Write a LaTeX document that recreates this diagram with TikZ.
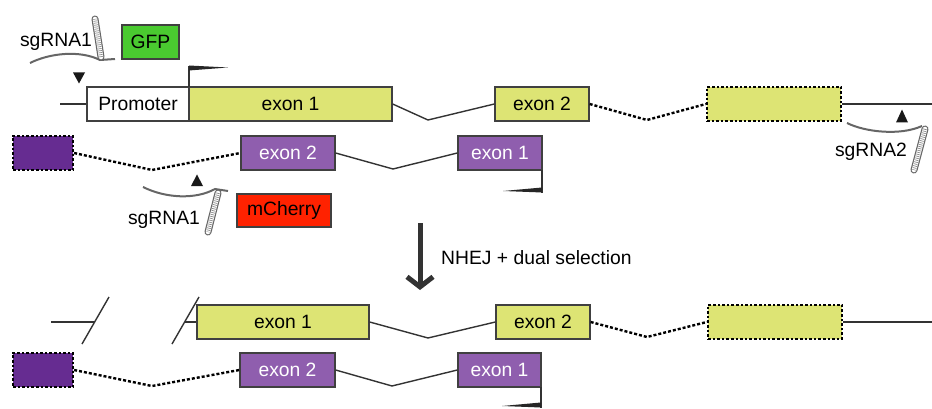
\documentclass[tikz,border=0pt]{standalone}
\usepackage{fontspec}
\setmainfont{Liberation Sans}
\usepackage{tikz}
\usetikzlibrary{arrows.meta}

\definecolor{amarillo}{RGB}{221,228,116}
\definecolor{morado}{RGB}{143,94,174}
\definecolor{moradoosc}{RGB}{102,44,145}
\definecolor{verde}{RGB}{74,202,48}
\definecolor{rojo}{RGB}{255,34,0}

\tikzset{
  caja/.style={draw=black!75, line width=1.3pt, minimum height=34pt, inner sep=0pt,
    font=\fontsize{19.3}{22}\selectfont},
  exonA/.style={caja, fill=amarillo},
  exonB/.style={caja, fill=morado, text=white},
  falsoA/.style={caja, draw=black, fill=amarillo, line width=2.2pt, dash pattern=on 2.6pt off 2pt},
  falsoB/.style={caja, draw=black, fill=moradoosc, line width=2.2pt, dash pattern=on 2.6pt off 2pt},
  rotulo/.style={inner sep=0pt, font=\fontsize{19.3}{22}\selectfont},
  intron/.style={draw=black!80, line width=1.4pt},
  punteado/.style={draw=black, line width=2.4pt, dash pattern=on 3pt off 2pt},
  hebra/.style={draw=black!60, line width=2pt},
  horquilla/.style={draw=black!60, line width=7pt, line cap=round,
    postaction={draw=white, line width=4.6pt},
    postaction={draw=black!45, line width=4pt, line cap=butt, dash pattern=on 0.7pt off 1.3pt}},
  flecha/.style={draw=black!80, line width=5pt, -{Straight Barb[length=10pt,width=26pt]}},
}

\begin{document}
\begin{tikzpicture}[x=1pt,y=-1pt]
  \useasboundingbox (0,0) rectangle (932,409);

  % Gen superior (verde / amarillo)
  \node[caja, fill=white, minimum width=102pt] (promotor) at (138,104) {Promoter};
  \node[exonA, minimum width=203pt] (exUno) at (290.5,104) {exon 1};
  \node[exonA, minimum width=94pt] (exDos) at (542,104) {exon 2};
  \node[falsoA, minimum width=134pt] (exFalso) at (774,104) {};
  \node[caja, fill=verde, minimum width=57pt] (gfp) at (150.5,42) {GFP};

  \coordinate (izqA) at (60,104);
  \coordinate (vA1) at (428,120);
  \coordinate (vA2) at (647,120);
  \coordinate (derA) at (932,104);
  \draw[intron] (izqA) -- (promotor.west);
  \draw[intron] (exUno.east) -- (vA1) -- (exDos.west);
  \draw[punteado] (exDos.east) -- (vA2) -- (exFalso.west);
  \draw[intron] (exFalso.east) -- (derA);

  % Inicio de transcripcion
  \draw[line width=1.3pt, black!80] (189,87) -- (189,66);
  \fill[black!85] (189,65.5) -- (228,67.5) -- (189,70.5) -- cycle;

  % sgRNA1 arriba
  \node[rotulo] (sgA) at (56,42) {sgRNA1};
  \draw[hebra] (30,63) .. controls (50,53) and (80,50) .. (100,60) -- (115,59);
  \draw[horquilla] (101,57) -- (95,19);
  \fill[black!90] (73,72.5) -- (85,72.5) -- (79,83.5) -- cycle;

  % Gen inferior (morado)
  \node[falsoB, minimum width=60pt] (pFalso) at (43,153) {};
  \node[exonB, minimum width=94pt] (pDos) at (288,153) {exon 2};
  \node[exonB, minimum width=84pt] (pUno) at (500,153) {exon 1};
  \node[caja, fill=rojo, minimum width=94pt, minimum height=33pt] (mcherry) at (284,210.5) {mCherry};

  \coordinate (vB1) at (152,170);
  \coordinate (vB2) at (393,169);
  \draw[punteado] (pFalso.east) -- (vB1) -- (pDos.west);
  \draw[intron] (pDos.east) -- (vB2) -- (pUno.west);

  % Inicio de transcripcion (al reves)
  \draw[line width=1.3pt, black!80] (542,170) -- (542,192.5);
  \fill[black!85] (542,187.5) -- (503,191) -- (542,192.5) -- cycle;

  % sgRNA1 abajo
  \node[rotulo] (sgB) at (164,220) {sgRNA1};
  \draw[hebra] (143,187) .. controls (165,198) and (195,200) .. (215,189) -- (228,191);
  \draw[horquilla] (218,193) -- (208,232);
  \fill[black!90] (191,186) -- (203,186) -- (197,174.5) -- cycle;

  % sgRNA2
  \node[rotulo] (sgC) at (871,152) {sgRNA2};
  \draw[hebra] (847,123) .. controls (865,132) and (900,136) .. (922,126);
  \draw[horquilla] (925,129) -- (914,170);
  \fill[black!90] (896,122.5) -- (908,122.5) -- (902,109.5) -- cycle;

  % Flecha central
  \coordinate (flechaIni) at (420,223);
  \coordinate (flechaFin) at (420,290);
  \draw[flecha] (flechaIni) -- (flechaFin);
  \node[rotulo, anchor=west] (nhej) at (441,258) {NHEJ + dual selection};

  % Resultado: gen amarillo cortado
  \node[exonA, minimum width=172pt] (rUno) at (283,322) {exon 1};
  \node[exonA, minimum width=94pt] (rDos) at (543,322) {exon 2};
  \node[falsoA, minimum width=134pt] (rFalso) at (775,322) {};

  \coordinate (izqC) at (51,322);
  \coordinate (cortC) at (95,322);
  \coordinate (cortD) at (185,322);
  \coordinate (vC1) at (428,338);
  \coordinate (vC2) at (647,337);
  \coordinate (derC) at (932,322);
  \draw[intron] (izqC) -- (cortC);
  \draw[intron] (82,344) -- (109,297);
  \draw[intron] (172,344) -- (199,297);
  \draw[intron] (cortD) -- (rUno.west);
  \draw[intron] (rUno.east) -- (vC1) -- (rDos.west);
  \draw[punteado] (rDos.east) -- (vC2) -- (rFalso.west);
  \draw[intron] (rFalso.east) -- (derC);

  % Resultado: gen morado
  \node[falsoB, minimum width=60pt] (qFalso) at (43,370) {};
  \node[exonB, minimum width=95pt] (qDos) at (287.5,370) {exon 2};
  \node[exonB, minimum width=83pt] (qUno) at (499.5,370) {exon 1};

  \coordinate (vD1) at (152,386);
  \coordinate (vD2) at (392,386);
  \draw[punteado] (qFalso.east) -- (vD1) -- (qDos.west);
  \draw[intron] (qDos.east) -- (vD2) -- (qUno.west);

  \draw[line width=1.3pt, black!80] (541,387) -- (541,407.5);
  \fill[black!85] (541,402.5) -- (502,406) -- (541,407.5) -- cycle;
\end{tikzpicture}
\end{document}
